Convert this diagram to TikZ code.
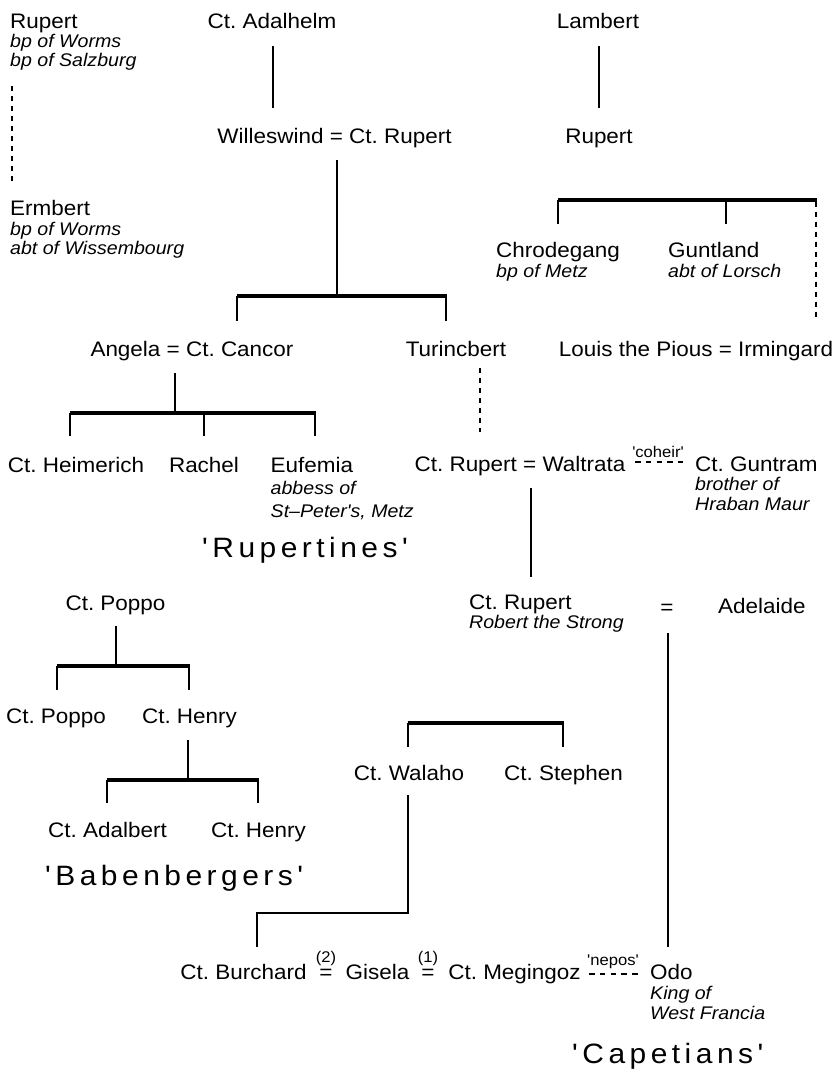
\documentclass[tikz,border=0pt]{standalone}
\usepackage{fontspec}
\setmainfont{Liberation Sans}
\newfontfamily\nmf{Liberation Sans}[FakeStretch=1.07]
\newfontfamily\grpf{Liberation Sans}[FakeStretch=1.07,LetterSpace=16]
\begin{document}
\frenchspacing
\begin{tikzpicture}[x=1pt,y=-1pt,
 nm/.style={inner sep=0pt,font=\nmf\fontsize{21}{25}\selectfont},
 ti/.style={inner sep=0pt,font=\nmf\itshape\fontsize{18.3}{22}\selectfont},
 sm/.style={inner sep=0pt,font=\nmf\fontsize{15.5}{18}\selectfont},
 grp/.style={inner sep=0pt,font=\grpf\fontsize{28}{32}\selectfont},
 ln/.style={line width=1.1pt},
 bar/.style={line width=3.3pt},
 dl/.style={line width=1.1pt,dash pattern=on 5pt off 5pt},
 dh/.style={line width=1.1pt,dash pattern=on 5.5pt off 5.3pt}]
\useasboundingbox (0,0) rectangle (838,1071);

% ---------- persons ----------
\node[nm,anchor=base west] (rupA) at (10,28) {Rupert};
\node[ti,anchor=base west] (rupAt1) at (10,47) {bp of Worms};
\node[ti,anchor=base west] (rupAt2) at (10,66) {bp of Salzburg};
\node[nm,anchor=base] (adal) at (272,28) {Ct. Adalhelm};
\node[nm,anchor=base] (lamb) at (598,28) {Lambert};
\node[nm,anchor=base] (wille) at (334.5,143) {Willeswind = Ct. Rupert};
\node[nm,anchor=base] (rupB) at (599,143) {Rupert};
\node[nm,anchor=base west] (ermb) at (10,215) {Ermbert};
\node[ti,anchor=base west] (ermbt1) at (10,235) {bp of Worms};
\node[ti,anchor=base west] (ermbt2) at (10,254) {abt of Wissembourg};
\node[nm,anchor=base west] (chrod) at (496,257) {Chrodegang};
\node[ti,anchor=base west] (chrodt) at (496,277) {bp of Metz};
\node[nm,anchor=base west] (gunt) at (668,257) {Guntland};
\node[ti,anchor=base west] (guntt) at (668,277) {abt of Lorsch};
\node[nm,anchor=base] (angela) at (192,356) {Angela = Ct. Cancor};
\node[nm,anchor=base] (turinc) at (456,356) {Turincbert};
\node[nm,anchor=base] (louis) at (696,356) {Louis the Pious = Irmingard};
\node[nm,anchor=base] (heim) at (76,472) {Ct. Heimerich};
\node[nm,anchor=base] (rachel) at (204,472) {Rachel};
\node[nm,anchor=base west] (eufem) at (270.5,472) {Eufemia};
\node[ti,anchor=base west] (eufemt1) at (270.5,494.5) {abbess of};
\node[ti,anchor=base west] (eufemt2) at (270.5,517) {St–Peter's, Metz};
\node[nm,anchor=base] (crw) at (520,471) {Ct. Rupert = Waltrata};
\node[sm,anchor=base] (coheir) at (658,457) {'coheir'};
\node[nm,anchor=base west] (guntr) at (695,471) {Ct. Guntram};
\node[ti,anchor=base west] (guntrt1) at (695,490) {brother of};
\node[ti,anchor=base west] (guntrt2) at (695,510) {Hraban Maur};
\node[grp,anchor=base west] (rupt) at (202,557) {'Rupertines'};
\node[nm,anchor=base west] (rupC) at (469,609) {Ct. Rupert};
\node[ti,anchor=base west] (rupCt) at (469,628) {Robert the Strong};
\node[nm] (eqA) at (667,609) {=};
\node[nm,anchor=base west] (adel) at (718,613) {Adelaide};
\node[nm,anchor=base] (poppo1) at (115.5,610) {Ct. Poppo};
\node[nm,anchor=base] (poppo2) at (56,723) {Ct. Poppo};
\node[nm,anchor=base] (henry1) at (189.5,723) {Ct. Henry};
\node[nm,anchor=base] (adalb) at (107.5,837) {Ct. Adalbert};
\node[nm,anchor=base] (henry2) at (258.5,837) {Ct. Henry};
\node[grp,anchor=base west] (baben) at (45,885) {'Babenbergers'};
\node[nm,anchor=base] (walaho) at (409,780) {Ct. Walaho};
\node[nm,anchor=base] (stephen) at (563.5,780) {Ct. Stephen};
\node[nm,anchor=base] (burch) at (243.5,979) {Ct. Burchard};
\node[nm] (eqB) at (326,974) {=};
\node[sm,anchor=base] (two) at (326,962.5) {(2)};
\node[nm,anchor=base] (gisela) at (377.5,979) {Gisela};
\node[nm] (eqC) at (428,974) {=};
\node[sm,anchor=base] (one) at (428,962.5) {(1)};
\node[nm,anchor=base] (meg) at (514.5,979) {Ct. Megingoz};
\node[sm,anchor=base] (nepos) at (613,965) {'nepos'};
\node[nm,anchor=base west] (odo) at (650,979) {Odo};
\node[ti,anchor=base west] (odot1) at (650,999) {King of};
\node[ti,anchor=base west] (odot2) at (650,1019) {West Francia};
\node[grp,anchor=base west] (capet) at (572,1063) {'Capetians'};

% ---------- connector end points ----------
\coordinate (adalD) at (273,46);   \coordinate (willeU) at (273,108);
\coordinate (lambD) at (599,46);   \coordinate (rupBU) at (599,108);
\coordinate (rupAD) at (12,86);    \coordinate (ermbU) at (12,182);
\coordinate (willeD) at (337,160); \coordinate (b1m) at (337,296);
\coordinate (b1l) at (237,296);    \coordinate (b1r) at (446,296);
\coordinate (angelaU) at (237,321);\coordinate (turincU) at (446,321);
\coordinate (b2l) at (558,200);    \coordinate (b2m) at (726,200); \coordinate (b2r) at (816,200);
\coordinate (chrodU) at (558,224); \coordinate (guntU) at (726,224); \coordinate (louisU) at (816,317);
\coordinate (angelaD) at (175,373);\coordinate (b3m) at (175,413);
\coordinate (b3l) at (70,413);     \coordinate (b3c) at (204,413); \coordinate (b3r) at (315,413);
\coordinate (heimU) at (70,436);   \coordinate (rachelU) at (204,436); \coordinate (eufemU) at (315,436);
\coordinate (turincD) at (480,368);\coordinate (crwU) at (480,432);
\coordinate (coheirL) at (635,462);\coordinate (coheirR) at (683,462);
\coordinate (crwD) at (531,488);   \coordinate (rupCU) at (531,577);
\coordinate (eqAD) at (668,633);   \coordinate (odoU) at (668,947);
\coordinate (poppoD) at (116,626); \coordinate (b4m) at (116,666);
\coordinate (b4l) at (57,666);     \coordinate (b4r) at (189,666);
\coordinate (poppo2U) at (57,690); \coordinate (henry1U) at (189,690);
\coordinate (henryD) at (188,740); \coordinate (b5m) at (188,780);
\coordinate (b5l) at (107,780);    \coordinate (b5r) at (258,780);
\coordinate (adalbU) at (107,803); \coordinate (henry2U) at (258,803);
\coordinate (b6l) at (408,723);    \coordinate (b6r) at (563,723);
\coordinate (walahoU) at (408,747);\coordinate (stephenU) at (563,747);
\coordinate (walahoD) at (408,795);\coordinate (wk1) at (408,913);
\coordinate (wk2) at (257,913);    \coordinate (burchU) at (257,947);
\coordinate (neposL) at (589,974); \coordinate (neposR) at (638,974);

% ---------- connectors ----------
\draw[ln] (adalD) -- (willeU);
\draw[ln] (lambD) -- (rupBU);
\draw[dl] (rupAD) -- (ermbU);
\draw[ln] (willeD) -- (b1m);
\draw[bar] ([xshift=-0.5pt]b1l) -- ([xshift=0.5pt]b1r);
\draw[ln] (b1l) -- (angelaU);
\draw[ln] (b1r) -- (turincU);
\draw[bar] ([xshift=-0.5pt]b2l) -- ([xshift=0.5pt]b2r);
\draw[ln] (b2l) -- (chrodU);
\draw[ln] (b2m) -- (guntU);
\draw[dl] ([yshift=-1.6pt]b2r) -- (louisU);
\draw[ln] (angelaD) -- (b3m);
\draw[bar] ([xshift=-0.5pt]b3l) -- ([xshift=0.5pt]b3r);
\draw[ln] (b3l) -- (heimU);
\draw[ln] (b3c) -- (rachelU);
\draw[ln] (b3r) -- (eufemU);
\draw[dl] (turincD) -- (crwU);
\draw[dh] (coheirL) -- (coheirR);
\draw[ln] (crwD) -- (rupCU);
\draw[ln] (eqAD) -- (odoU);
\draw[ln] (poppoD) -- (b4m);
\draw[bar] ([xshift=-0.5pt]b4l) -- ([xshift=0.5pt]b4r);
\draw[ln] (b4l) -- (poppo2U);
\draw[ln] (b4r) -- (henry1U);
\draw[ln] (henryD) -- (b5m);
\draw[bar] ([xshift=-0.5pt]b5l) -- ([xshift=0.5pt]b5r);
\draw[ln] (b5l) -- (adalbU);
\draw[ln] (b5r) -- (henry2U);
\draw[bar] ([xshift=-0.5pt]b6l) -- ([xshift=0.5pt]b6r);
\draw[ln] (b6l) -- (walahoU);
\draw[ln] (b6r) -- (stephenU);
\draw[ln] (walahoD) -- (wk1) -- (wk2) -- (burchU);
\draw[dh] (neposL) -- (neposR);
\end{tikzpicture}
\end{document}
